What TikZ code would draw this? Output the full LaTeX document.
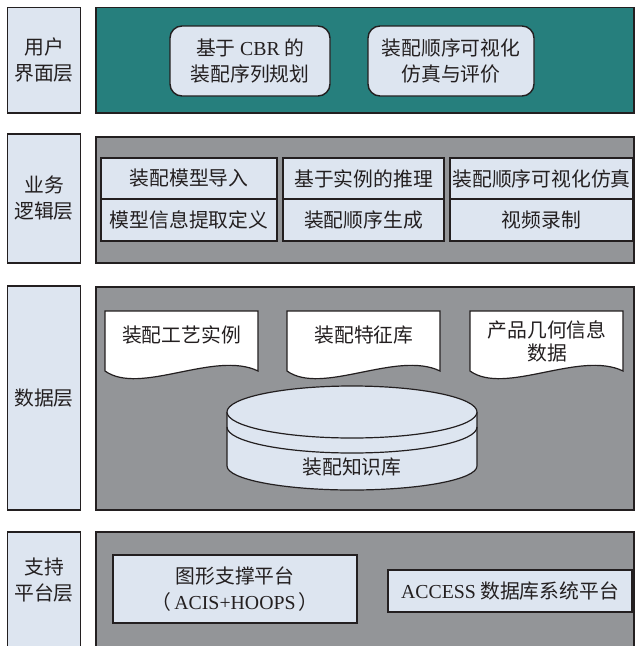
\documentclass[tikz,border=0pt]{standalone}
\usepackage{fontspec}
\setmainfont{Liberation Serif}
\newfontfamily\cjk{Noto Sans CJK SC}
\definecolor{lb}{HTML}{DDE5F0}
\definecolor{teal1}{HTML}{267F7D}
\definecolor{gr}{HTML}{939598}
\definecolor{ln}{HTML}{231F20}
\begin{document}
\begin{tikzpicture}[x=1pt,y=-1pt,
  every node/.style={text=ln},
  txt/.style={font=\cjk\fontsize{19.8}{26}\selectfont, align=center, inner sep=0pt},
  labelbox/.style={draw=ln, line width=1.4pt, fill=lb, minimum width=73pt, inner sep=0pt},
  panel/.style={draw=ln, line width=1.4pt},
  cellbox/.style={draw=ln, line width=1.4pt, fill=lb, inner sep=0pt, txt},
  rbox/.style={cellbox, rounded corners=12pt},
  docshape/.style={draw=ln, line width=1.2pt, fill=white}
]
\useasboundingbox (0,0) rectangle (635,646);
% ---- left labels
\node[labelbox, minimum height=105.5pt, txt] (l1) at (44,60.25) {用户\\界面层};
\node[labelbox, minimum height=129pt, txt] (l2) at (44,198.5) {业务\\逻辑层};
\node[labelbox, minimum height=224pt, txt] (l3) at (44,398) {数据层};
\node[labelbox, minimum height=128pt] (l4) at (44,596) {};
\node[txt] (l4t) at (44,580) {支持\\平台层};
% ---- panels
\draw[panel, fill=teal1] (96,7.5) rectangle (634,113);
\draw[panel, fill=gr] (96,137) rectangle (634,263);
\draw[panel, fill=gr] (96,287) rectangle (634,510);
\draw[panel, fill=gr] (96,532) rectangle (634,660);
% ---- row 1
\node[rbox, minimum width=160pt, minimum height=70pt] (u1) at (250,61) {基于 {\rmfamily CBR} 的\\装配序列规划};
\node[rbox, minimum width=166pt, minimum height=70pt] (u2) at (451,61) {装配顺序可视化\\仿真与评价};
% ---- row 2 grid
\node[cellbox, minimum width=176pt, minimum height=41pt] (b1) at (189,178.5) {装配模型导入};
\node[cellbox, minimum width=176pt, minimum height=42pt] (b2) at (189,220) {模型信息提取定义};
\node[cellbox, minimum width=161pt, minimum height=41pt] (b3) at (363.5,178.5) {基于实例的推理};
\node[cellbox, minimum width=161pt, minimum height=42pt] (b4) at (363.5,220) {装配顺序生成};
\node[cellbox, minimum width=183pt, minimum height=41pt] (b5) at (541.5,178.5) {装配顺序可视化仿真};
\node[cellbox, minimum width=183pt, minimum height=42pt] (b6) at (541.5,220) {视频录制};
% ---- row 3 documents
\foreach \x in {105,287,470}{
  \draw[docshape] (\x,371) -- (\x,311) -- (\x+153,311) -- (\x+153,371)
    .. controls (\x+110,350) and (\x+35,396) .. (\x,371) -- cycle;
}
\node[txt] (d1) at (181.5,335) {装配工艺实例};
\node[txt] (d2) at (364,335) {装配特征库};
\node[txt, font=\cjk\fontsize{19.8}{23}\selectfont] (d3) at (547,341) {产品几何信息\\数据};
% ---- cylinder
\fill[lb] (227,412) -- (227,466) arc[start angle=180,end angle=0,x radius=125,y radius=24] -- (477,412) -- cycle;
\draw[ln, line width=1.2pt] (227,412) -- (227,466) arc[start angle=180,end angle=0,x radius=125,y radius=24] -- (477,412);
\draw[ln, line width=1.2pt] (227,427) arc[start angle=180,end angle=0,x radius=125,y radius=26];
\draw[ln, line width=1.2pt, fill=lb] (352,412) ellipse[x radius=125,y radius=26];
\node[txt] (kb) at (352,467) {装配知识库};
% ---- row 4
\node[cellbox, minimum width=244pt, minimum height=68pt] (p1) at (235,589) {图形支撑平台\\（\,{\rmfamily ACIS+HOOPS}\,）};
\node[cellbox, minimum width=244pt, minimum height=42pt] (p2) at (510,591) {{\rmfamily ACCESS} 数据库系统平台};
\end{tikzpicture}
\end{document}
